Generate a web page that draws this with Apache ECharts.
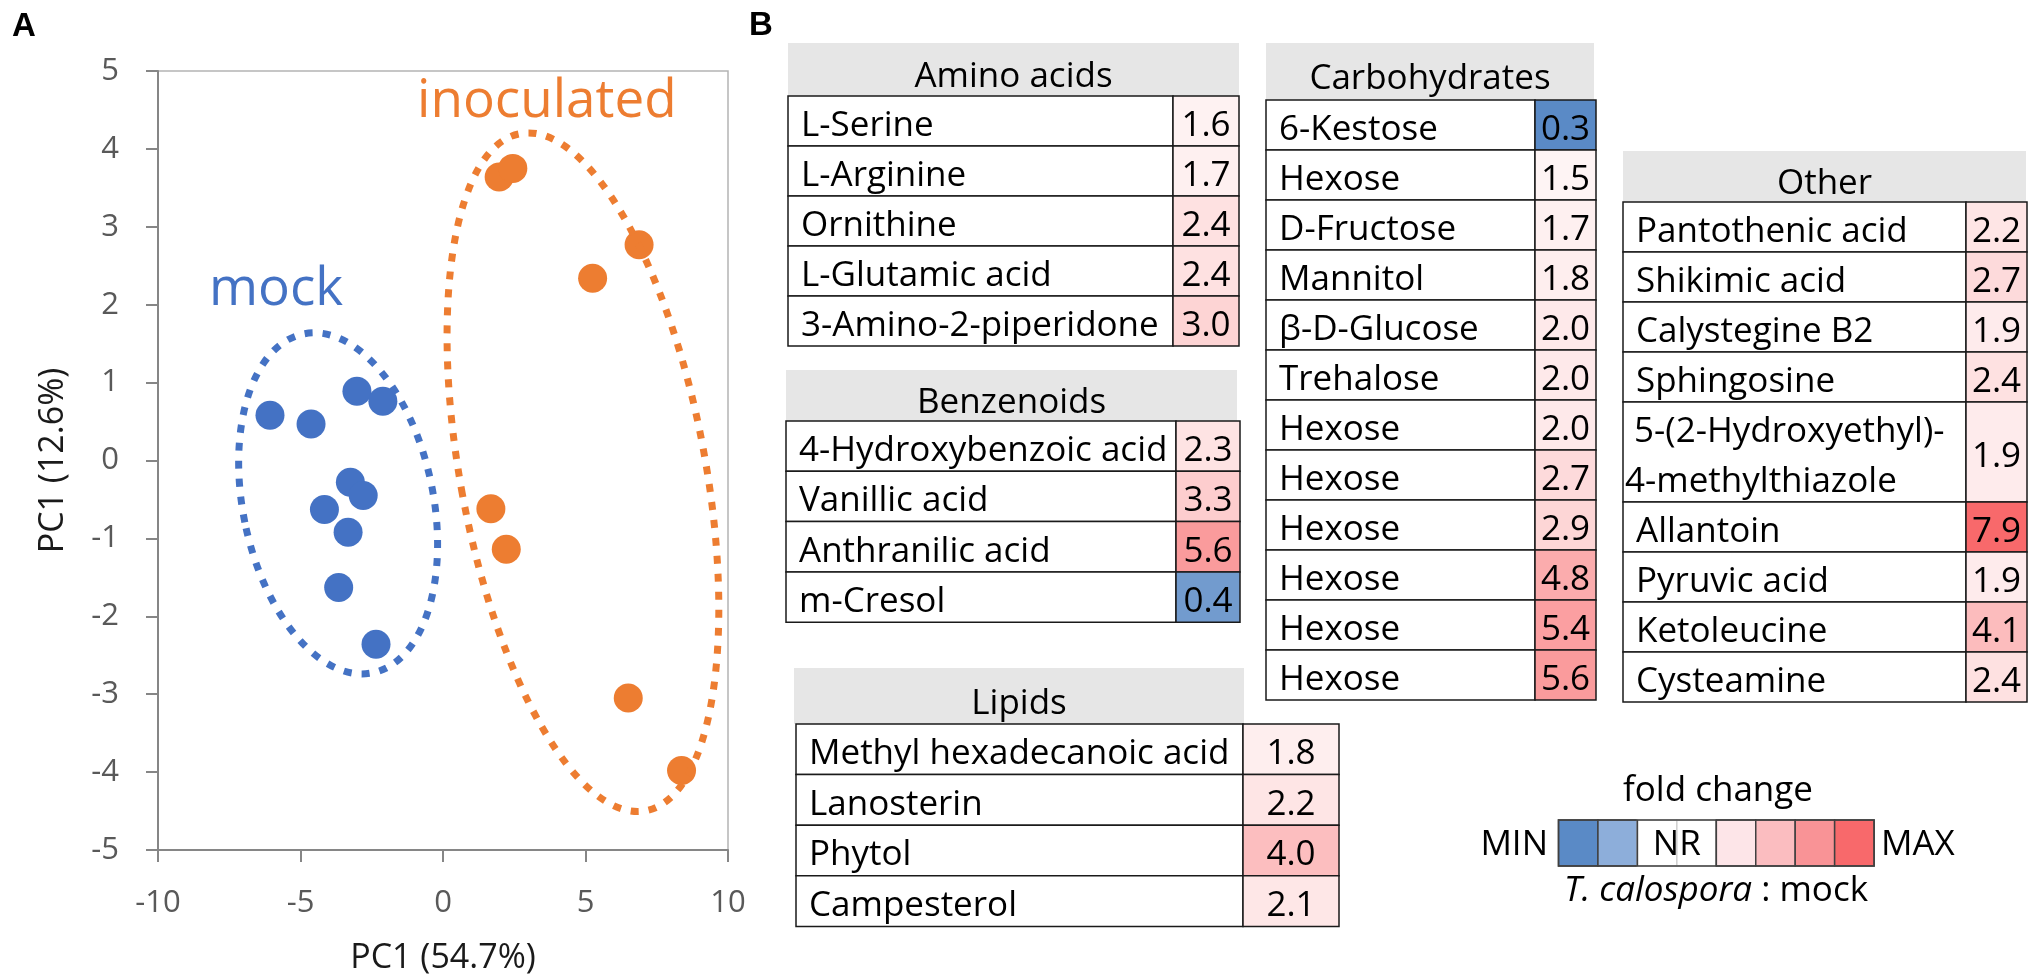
<!DOCTYPE html>
<html><head><meta charset="utf-8">
<script src="https://cdn.jsdelivr.net/npm/echarts@6/dist/echarts.min.js"></script>
<style>html,body{margin:0;padding:0;background:#fff}#c{width:2033px;height:979px}</style>
</head><body><div id="c"></div>
<script>
// ---------- Panel A data (PCA scores) ----------
const mockX = [-6.07, -4.63, -3.02, -2.11, -3.25, -2.80, -4.16, -3.33, -3.66, -2.35];
const mockY = [0.58, 0.47, 0.89, 0.76, -0.28, -0.45, -0.63, -0.92, -1.63, -2.36];
const inocX = [1.97, 2.45, 5.25, 6.88, 1.68, 2.22, 6.50, 8.37];
const inocY = [3.64, 3.75, 2.34, 2.77, -0.62, -1.14, -3.05, -3.98];
const groupNames = ['mock', 'inoculated'];
// group ellipses: centre (data units), half-widths (x units, y units), tilt (deg)
const ellipseMock = [-3.68, -0.55, 3.34, 2.22, 11.5];
const ellipseInoc = [4.91, -0.15, 4.30, 4.42, 10.5];

// ---------- Panel B data (fold change) ----------
const aminoNames = ['L-Serine', 'L-Arginine', 'Ornithine', 'L-Glutamic acid', '3-Amino-2-piperidone'];
const aminoValues = [1.6, 1.7, 2.4, 2.4, 3.0];
const benzNames = ['4-Hydroxybenzoic acid', 'Vanillic acid', 'Anthranilic acid', 'm-Cresol'];
const benzValues = [2.3, 3.3, 5.6, 0.4];
const lipidNames = ['Methyl hexadecanoic acid', 'Lanosterin', 'Phytol', 'Campesterol'];
const lipidValues = [1.8, 2.2, 4.0, 2.1];
const carbNames = ['6-Kestose', 'Hexose', 'D-Fructose', 'Mannitol', 'β-D-Glucose', 'Trehalose', 'Hexose', 'Hexose', 'Hexose', 'Hexose', 'Hexose', 'Hexose'];
const carbValues = [0.3, 1.5, 1.7, 1.8, 2.0, 2.0, 2.0, 2.7, 2.9, 4.8, 5.4, 5.6];
const otherNames = ['Pantothenic acid', 'Shikimic acid', 'Calystegine B2', 'Sphingosine', ' 5-(2-Hydroxyethyl)-\n4-methylthiazole', 'Allantoin', 'Pyruvic acid', 'Ketoleucine', 'Cysteamine'];
const otherValues = [2.2, 2.7, 1.9, 2.4, 1.9, 7.9, 1.9, 4.1, 2.4];
const legendTexts = ['fold change', 'MIN', 'NR', 'MAX'];

// ---------- styles ----------
const FONT = '"Open Sans", sans-serif';
const legendColors = ['#5A8AC6', '#8DAEDA', '#FFFFFF', '#FFFFFF', '#FDE5E8', '#FBBDC0', '#F99396', '#F8696B'];
const MIN_C = [90, 138, 198], MAX_C = [248, 105, 107], MID_C = [255, 255, 255];
const allValues = [].concat(aminoValues, benzValues, lipidValues, carbValues, otherValues);
const vMin = Math.min.apply(null, allValues), vMax = Math.max.apply(null, allValues);
function mix(a, b, t) { return 'rgb(' + a.map((c, i) => Math.round(c + (b[i] - c) * t)).join(',') + ')'; }
function fcColor(v) {
  if (v >= 1) return mix(MID_C, MAX_C, (v - 1) / (vMax - 1));
  return mix(MID_C, MIN_C, (1 - v) / (1 - vMin));
}

const tables = [
  { title: 'Amino acids', names: aminoNames, values: aminoValues, left: 788, split: 1173, right: 1239, headTop: 43, headLeft: 788, headRight: 1239, top: 96, rowH: 50 },
  { title: 'Benzenoids', names: benzNames, values: benzValues, left: 786, split: 1176, right: 1240, headTop: 370, headLeft: 786, headRight: 1237, top: 421, rowH: 50.3 },
  { title: 'Lipids', names: lipidNames, values: lipidValues, left: 796, split: 1243, right: 1339, headTop: 668, headLeft: 794, headRight: 1244, top: 724, rowH: 50.6 },
  { title: 'Carbohydrates', names: carbNames, values: carbValues, left: 1266, split: 1535, right: 1596, headTop: 43, headLeft: 1266, headRight: 1594, top: 100, rowH: 50 },
  { title: 'Other', names: otherNames, values: otherValues, left: 1623, split: 1966, right: 2027, headTop: 151, headLeft: 1623, headRight: 2026, top: 202, rowH: 50 }
];

const grids = [{ left: 158, top: 71, width: 570, height: 779, show: true, borderColor: '#B4B4B4', borderWidth: 1.5, backgroundColor: 'transparent', outerBoundsMode: 'none' }];
const xAxes = [{
  type: 'value', gridIndex: 0, min: -10, max: 10, interval: 5,
  name: 'PC1 (54.7%)', nameLocation: 'middle', nameGap: 91,
  nameTextStyle: { fontSize: 34, color: '#1a1a1a', fontFamily: FONT },
  axisLine: { show: true, onZero: false, lineStyle: { color: '#868686', width: 2 } },
  axisTick: { show: true, inside: false, length: 12, lineStyle: { color: '#868686', width: 2 } },
  axisLabel: { fontSize: 31, color: '#595959', margin: 38, fontFamily: FONT },
  splitLine: { show: false }
}];
const yAxes = [{
  type: 'value', gridIndex: 0, min: -5, max: 5, interval: 1,
  name: 'PC1 (12.6%)', nameLocation: 'middle', nameGap: 88, nameRotate: 90,
  nameTextStyle: { fontSize: 34, color: '#1a1a1a', fontFamily: FONT },
  axisLine: { show: true, onZero: false, lineStyle: { color: '#868686', width: 2 } },
  axisTick: { show: true, inside: false, length: 12, lineStyle: { color: '#868686', width: 2 } },
  axisLabel: { fontSize: 31, color: '#595959', margin: 39, fontFamily: FONT },
  splitLine: { show: false }
}];
const series = [
  { type: 'scatter', name: groupNames[0], xAxisIndex: 0, yAxisIndex: 0, symbolSize: 29, itemStyle: { color: '#4472C4', opacity: 1 }, data: mockX.map((x, i) => [x, mockY[i]]), z: 3 },
  { type: 'scatter', name: groupNames[1], xAxisIndex: 0, yAxisIndex: 0, symbolSize: 29, itemStyle: { color: '#ED7D31', opacity: 1 }, data: inocX.map((x, i) => [x, inocY[i]]), z: 3 }
];

tables.forEach((T, k) => {
  const gi = k + 1;
  let start = 0;
  const rows = T.names.map((n, i) => { const span = n.split('\n').length; const r = [0.5, start, span, T.values[i]]; start += span; return r; });
  const nSlots = start;
  const splitFrac = (T.split - T.left) / (T.right - T.left);
  grids.push({ left: T.left, top: T.top, width: T.right - T.left, height: nSlots * T.rowH, show: false, outerBoundsMode: 'none' });
  xAxes.push({ type: 'value', gridIndex: gi, min: 0, max: 1, show: false });
  yAxes.push({ type: 'value', gridIndex: gi, min: 0, max: nSlots, inverse: true, show: false });
  series.push({
    type: 'custom', xAxisIndex: gi, yAxisIndex: gi, silent: true,
    encode: { x: 0, y: 1 },
    data: rows,
    renderItem: function (params, api) {
      const s = api.value(1), sp = api.value(2), v = api.value(3);
      const name = T.names[params.dataIndex];
      const pA = api.coord([0, s]), pB = api.coord([1, s + sp]);
      const xS = api.coord([splitFrac, s])[0];
      const x0 = pA[0], x1 = pB[0], y0 = pA[1], y1 = pB[1];
      const yc = (y0 + y1) / 2 + 5;
      const multi = name.indexOf('\n') >= 0;
      return {
        type: 'group',
        children: [
          { type: 'rect', shape: { x: x0, y: y0, width: xS - x0, height: y1 - y0 }, style: { fill: '#fff', stroke: '#1a1a1a', lineWidth: 1.5 } },
          { type: 'rect', shape: { x: xS, y: y0, width: x1 - xS, height: y1 - y0 }, style: { fill: fcColor(v), stroke: '#1a1a1a', lineWidth: 1.5 } },
          { type: 'text', x: x0 + (multi ? 2 : 13), y: yc, style: { text: name, font: '35px ' + FONT, fill: '#000', align: 'left', verticalAlign: 'middle', lineHeight: 50 } },
          { type: 'text', x: (xS + x1) / 2, y: yc, style: { text: v.toFixed(1), font: '35px ' + FONT, fill: '#000', align: 'center', verticalAlign: 'middle' } }
        ]
      };
    }
  });
});

const chart = echarts.init(document.getElementById('c'));
chart.setOption({
  animation: false,
  backgroundColor: '#fff',
  grid: grids, xAxis: xAxes, yAxis: yAxes, series: series
});

// ---------- annotations ----------
const g = [];
g.push({ type: 'text', x: 12, y: 26.5, style: { text: 'A', font: 'bold 33px "Liberation Sans", Arial, sans-serif', fill: '#000', verticalAlign: 'middle' } });
g.push({ type: 'text', x: 749, y: 26, style: { text: 'B', font: 'bold 33px "Liberation Sans", Arial, sans-serif', fill: '#000', verticalAlign: 'middle' } });
g.push({ type: 'text', x: 209, y: 290, style: { text: groupNames[0], font: '53px ' + FONT, fill: '#4472C4', verticalAlign: 'middle' } });
g.push({ type: 'text', x: 417, y: 102, style: { text: groupNames[1], font: '53px ' + FONT, fill: '#ED7D31', verticalAlign: 'middle' } });

function ellipse(e, color) {
  const c = chart.convertToPixel({ gridIndex: 0 }, [e[0], e[1]]);
  const p = chart.convertToPixel({ gridIndex: 0 }, [e[0] + e[2], e[1] + e[3]]);
  return {
    type: 'ellipse', x: c[0], y: c[1], rotation: e[4] * Math.PI / 180, z: 50,
    shape: { cx: 0, cy: 0, rx: Math.abs(p[0] - c[0]), ry: Math.abs(p[1] - c[1]) },
    style: { fill: 'none', stroke: color, lineWidth: 7, lineDash: [8, 10], lineCap: 'butt' }
  };
}
g.push(ellipse(ellipseMock, '#4472C4'));
g.push(ellipse(ellipseInoc, '#ED7D31'));

tables.forEach(T => {
  g.push({ type: 'rect', shape: { x: T.headLeft, y: T.headTop, width: T.headRight - T.headLeft, height: T.top - T.headTop }, style: { fill: '#E6E6E6' }, z: 1 });
  g.push({ type: 'text', x: (T.headLeft + T.headRight) / 2, y: (T.headTop + T.top) / 2 + 8, style: { text: T.title, font: '35px ' + FONT, fill: '#000', align: 'center', verticalAlign: 'middle' }, z: 2 });
});

// legend
const lgX = 1558.5, lgY = 820, lgW = 39.45, lgH = 46;
legendColors.forEach((c, i) => {
  g.push({ type: 'rect', shape: { x: lgX + i * lgW, y: lgY, width: lgW, height: lgH }, style: { fill: c, stroke: (i === 2 || i === 3) ? '#d0d0d0' : '#404040', lineWidth: 1.5 }, z: 2 });
});
g.push({ type: 'rect', shape: { x: lgX, y: lgY, width: lgW * 8, height: lgH }, style: { fill: 'none', stroke: '#404040', lineWidth: 1.5 }, z: 3 });
g.push({ type: 'line', shape: { x1: lgX + 2 * lgW, y1: lgY, x2: lgX + 2 * lgW, y2: lgY + lgH }, style: { stroke: '#404040', lineWidth: 1.5 }, z: 3 });
g.push({ type: 'line', shape: { x1: lgX + 4 * lgW, y1: lgY, x2: lgX + 4 * lgW, y2: lgY + lgH }, style: { stroke: '#404040', lineWidth: 1.5 }, z: 3 });
g.push({ type: 'text', x: 1718, y: 791.5, style: { text: legendTexts[0], font: '35px ' + FONT, fill: '#000', align: 'center', verticalAlign: 'middle' }, z: 4 });
g.push({ type: 'text', x: 1548, y: 845, style: { text: legendTexts[1], font: '35px ' + FONT, fill: '#000', align: 'right', verticalAlign: 'middle' }, z: 4 });
g.push({ type: 'text', x: lgX + 3 * lgW, y: 845, style: { text: legendTexts[2], font: '35px ' + FONT, fill: '#000', align: 'center', verticalAlign: 'middle' }, z: 4 });
g.push({ type: 'text', x: 1881, y: 845, style: { text: legendTexts[3], font: '35px ' + FONT, fill: '#000', align: 'left', verticalAlign: 'middle' }, z: 4 });
g.push({ type: 'text', x: 1716, y: 891.5, style: { text: '{i|T. calospora} : mock', font: '35px ' + FONT, fill: '#000', align: 'center', verticalAlign: 'middle', rich: { i: { fontStyle: 'italic', fontSize: 35, fontFamily: FONT, fill: '#000' } } }, z: 4 });

chart.setOption({ graphic: { elements: g } });
</script>
</body></html>
